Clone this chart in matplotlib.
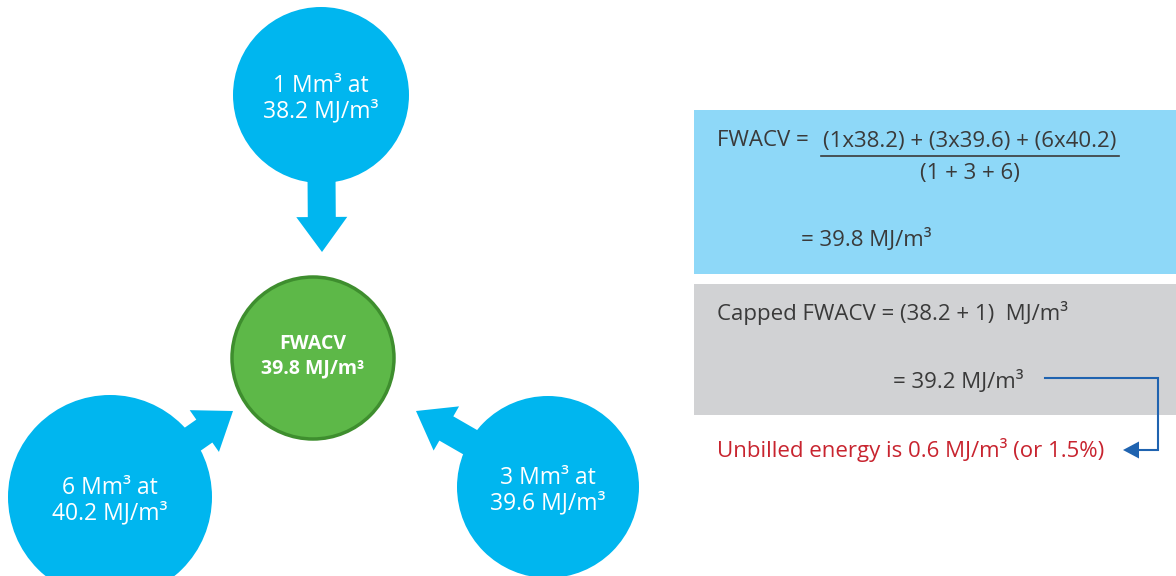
import matplotlib.pyplot as plt
from matplotlib.patches import Circle, FancyArrow, Rectangle, Polygon

plt.rcParams['font.family'] = ['Open Sans', 'DejaVu Sans']

# input flows: volume (Mm3) and calorific value (MJ/m3)
sources = ['top', 'left', 'right']
volumes = [1, 3, 6]
calorific_values = [38.2, 39.6, 40.2]
volume_by_source = {'top': 1, 'right': 3, 'left': 6}
cv_by_source = {'top': 38.2, 'right': 39.6, 'left': 40.2}
cap_base = 38.2
cap_allowance = 1

fwacv = round(sum(v * c for v, c in zip(volumes, calorific_values)) / sum(volumes), 1)
capped = cap_base + cap_allowance
unbilled = round(fwacv - capped, 1)
unbilled_pct = unbilled / fwacv * 100

BLUE = '#00B6EF'
GREEN = '#5DB848'
GREEN_EDGE = '#3E8E2E'
TEXT = '#3A3A3A'
LINK = '#1F63B0'
RED = '#C8242F'
PANEL_FS = 16

fig = plt.figure(figsize=(11.76, 5.76), dpi=100)
ax = fig.add_axes([0, 0, 1, 1])
ax.set_xlim(0, 1176)
ax.set_ylim(576, 0)
ax.set_aspect('equal')
ax.axis('off')

# source circles with arrows pointing at the centre
centre = (313, 358)
layout = {
    'top': dict(xy=(321, 95), r=88, tip=(322, 252)),
    'left': dict(xy=(110, 497), r=102, tip=(233, 411)),
    'right': dict(xy=(548, 487), r=91, tip=(416, 411)),
}
for name in sources:
    lay = layout[name]
    cx, cy = lay['xy']
    tx, ty = lay['tip']
    ax.add_patch(FancyArrow(cx, cy, tx - cx, ty - cy, width=28, head_width=51,
                            head_length=35, length_includes_head=True,
                            color=BLUE, lw=0, zorder=2))
    ax.add_patch(Circle((cx, cy), lay['r'], color=BLUE, lw=0, zorder=3))
    ax.text(cx, cy - 9, f'{volume_by_source[name]} Mm³ at', color='white',
            fontsize=16.5, ha='center', va='center', zorder=4)
    ax.text(cx, cy + 16, f'{cv_by_source[name]} MJ/m³', color='white',
            fontsize=16.5, ha='center', va='center', zorder=4)

ax.add_patch(Circle(centre, 81, facecolor=GREEN, edgecolor=GREEN_EDGE, lw=2.5, zorder=3))
ax.text(centre[0], centre[1] - 14, 'FWACV', color='white', fontsize=14,
        fontweight='bold', ha='center', va='center', zorder=4)
ax.text(centre[0], centre[1] + 10, f'{fwacv:.1f} MJ/m³', color='white', fontsize=14,
        fontweight='bold', ha='center', va='center', zorder=4)

# calculation panel
ax.add_patch(Rectangle((694, 110), 482, 164, color='#8ED8F8', lw=0))
ax.add_patch(Rectangle((694, 284), 482, 131, color='#D1D2D4', lw=0))

numer = ' + '.join(f'({v}x{c})' for v, c in sorted(zip(volumes, calorific_values)))
denom = '(' + ' + '.join(str(v) for v in volumes) + ')'
ax.text(717, 141, 'FWACV =', color=TEXT, fontsize=PANEL_FS, ha='left', va='center')
ax.text(970, 141, numer, color=TEXT, fontsize=PANEL_FS, ha='center', va='center')
ax.plot([821, 1119], [156, 156], color=TEXT, lw=1.2)
ax.text(970, 173, denom, color=TEXT, fontsize=PANEL_FS, ha='center', va='center')
ax.text(801, 240, f'= {fwacv:.1f} MJ/m³', color=TEXT, fontsize=PANEL_FS,
        ha='left', va='center')

ax.text(717, 313, f'Capped FWACV = ({cap_base} + {cap_allowance})  MJ/m³', color=TEXT,
        fontsize=PANEL_FS, ha='left', va='center')
ax.text(893, 381, f'= {capped:.1f} MJ/m³', color=TEXT, fontsize=PANEL_FS,
        ha='left', va='center')

ax.plot([1045, 1158, 1158, 1136], [378, 378, 450, 450], color=LINK, lw=1.5,
        solid_joinstyle='miter')
ax.add_patch(Polygon([(1123, 450), (1139, 441.5), (1139, 458.5)], color=LINK, lw=0))

ax.text(717, 450, f'Unbilled energy is {unbilled:.1f} MJ/m³ (or {unbilled_pct:.1f}%)',
        color=RED, fontsize=PANEL_FS, ha='left', va='center')

fig.savefig('out.png', dpi=100, facecolor='white')
